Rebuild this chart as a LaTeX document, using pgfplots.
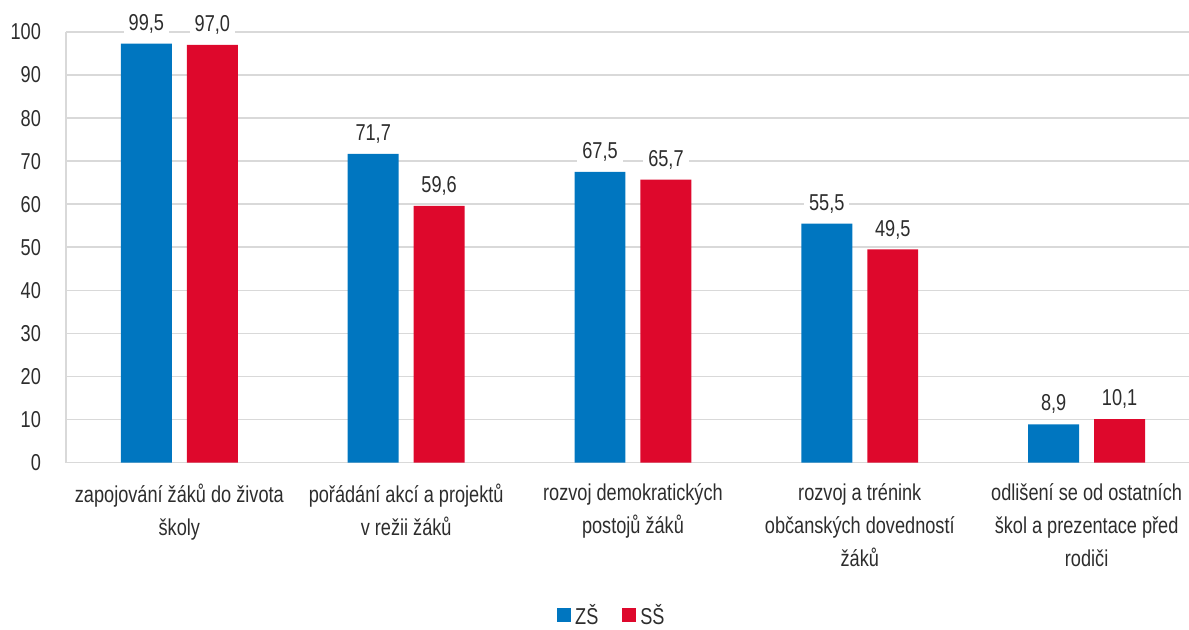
\documentclass[border=0pt]{standalone}
\usepackage{pgfplots}
\pgfplotsset{compat=1.18}
\usepackage{fontspec}
\setmainfont{Liberation Sans}[FakeStretch=0.79]
\definecolor{zsblue}{RGB}{0,118,192}
\definecolor{ssred}{RGB}{222,8,44}
\definecolor{gridgray}{RGB}{217,217,217}
\definecolor{txt}{RGB}{45,45,45}
\begin{document}
\begin{tikzpicture}
\begin{axis}[name=ax,
  width=562pt, height=215.5pt, scale only axis,
  xmin=-0.5, xmax=4.4515, ymin=0, ymax=100,
  ybar=7.5pt, bar width=25.5pt,
  xtick={0,1,2,3,4},
  xticklabels={{zapojování žáků do života\\školy},{pořádání akcí a projektů\\v režii žáků},{rozvoj demokratických\\postojů žáků},{rozvoj a trénink\\občanských dovedností\\žáků},{odlišení se od ostatních\\škol a prezentace před\\rodiči}},
  xticklabel style={align=center, font=\fontsize{11.5}{16.5}\selectfont, text=txt, yshift=-7pt},
  ytick={0,10,...,100},
  yticklabel style={font=\fontsize{11.5}{12}\selectfont, text=txt, xshift=-9pt},
  /pgf/number format/assume math mode=true,
  ymajorgrids, grid style={gridgray, line width=0.8pt},
  axis x line=bottom, axis y line=left,
  axis line style={gridgray, line width=0.8pt, -},
  major tick length=0pt,
  nodes near coords, point meta=explicit symbolic,
  every node near coord/.append style={font=\fontsize{11.5}{12}\selectfont, text=txt, fill=white, inner sep=2.5pt, anchor=south, yshift=2.5pt},
  legend style={draw=none, fill=none, inner sep=1pt, legend columns=-1, at={(0.487,-0.355)}, anchor=center, font=\fontsize{11.5}{12}\selectfont, text=txt, /tikz/every even column/.append style={column sep=10pt}},
  legend image code/.code={\fill[#1] (0pt,-3.5pt) rectangle (7pt,3.5pt);},
]
\addplot[fill=zsblue, draw=none] coordinates {(0,97.3) [99,5] (1,71.7) [71,7] (2,67.5) [67,5] (3,55.5) [55,5] (4,8.9) [8,9]};
\addplot[fill=ssred, draw=none] coordinates {(0,97.0) [97,0] (1,59.6) [59,6] (2,65.7) [65,7] (3,49.5) [49,5] (4,10.1) [10,1]};
\legend{ZŠ,SŠ}
\end{axis}
\pgfresetboundingbox
\path ([xshift=-33pt,yshift=-83.5pt]ax.south west) rectangle ([yshift=16pt]ax.north east);
\end{tikzpicture}
\end{document}
